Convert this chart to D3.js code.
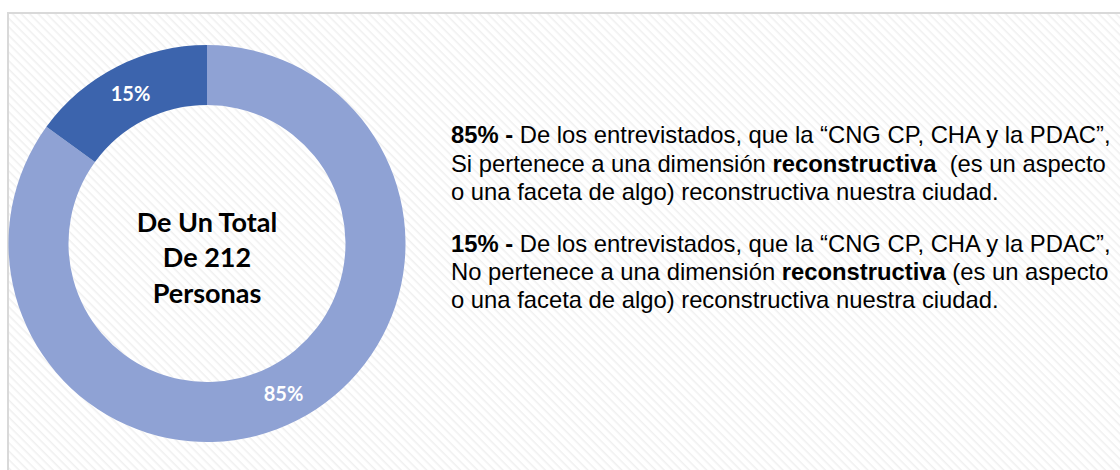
<!DOCTYPE html>
<html>
<head>
<meta charset="utf-8">
<script src="https://cdn.jsdelivr.net/npm/d3@7"></script>
<style>
  body { margin: 0; background: #fff; }
  svg { display: block; }
  text { white-space: pre; }
</style>
</head>
<body>
<svg id="chart"></svg>
<script>
// data
const categories = ["Si pertenece", "No pertenece"];
const values = [85, 15];
const sliceColors = ["#8fa2d4", "#3c64ad"];
const centerLines = ["De Un Total", "De 212", "Personas"];
// each paragraph: lines made of [text, bold] pieces
const paragraphs = [
  [
    [["85% - ", true], ["De los entrevistados, que la \u201cCNG CP, CHA y la PDAC\u201d,", false]],
    [["Si pertenece a una dimensi\u00f3n ", false], ["reconstructiva", true], ["  (es un aspecto", false]],
    [["o una faceta de algo) reconstructiva nuestra ciudad.", false]]
  ],
  [
    [["15% - ", true], ["De los entrevistados, que la \u201cCNG CP, CHA y la PDAC\u201d,", false]],
    [["No pertenece a una dimensi\u00f3n ", false], ["reconstructiva", true], [" (es un aspecto", false]],
    [["o una faceta de algo) reconstructiva nuestra ciudad.", false]]
  ]
];

const width = 1120, height = 470;
const svg = d3.select("#chart").attr("width", width).attr("height", height);

// hatched panel background
const defs = svg.append("defs");
const pat = defs.append("pattern")
  .attr("id", "hatch")
  .attr("patternUnits", "userSpaceOnUse")
  .attr("width", 6).attr("height", 6)
  .attr("patternTransform", "rotate(45)");
pat.append("rect").attr("width", 6).attr("height", 6).attr("fill", "#ffffff");
pat.append("line")
  .attr("x1", 0).attr("y1", 0).attr("x2", 6).attr("y2", 0)
  .attr("stroke", "#f0f0f0").attr("stroke-width", 3);

svg.append("rect")
  .attr("x", 8).attr("y", 13)
  .attr("width", width + 20).attr("height", height + 20)
  .attr("fill", "url(#hatch)")
  .attr("stroke", "#d9d9d9").attr("stroke-width", 2);

// donut
const cx = 207, cy = 243.5, outerR = 198.5, innerR = 138.5;
const pie = d3.pie().sort(null).value(d => d);
const arc = d3.arc().innerRadius(innerR).outerRadius(outerR);
const arcs = pie(values);

const donutG = svg.append("g").attr("transform", `translate(${cx},${cy})`);
donutG.selectAll("path.slice")
  .data(arcs)
  .join("path")
    .attr("class", "slice")
    .attr("d", arc)
    .attr("fill", (d, i) => sliceColors[i]);

donutG.selectAll("text.pct")
  .data(arcs)
  .join("text")
    .attr("class", "pct")
    .attr("transform", d => `translate(${arc.centroid(d)})`)
    .attr("text-anchor", "middle")
    .attr("dy", "0.36em")
    .attr("font-family", "Lato, 'Open Sans', sans-serif")
    .attr("font-weight", "bold")
    .attr("font-size", 20)
    .attr("fill", "#ffffff")
    .text(d => d.data + "%");

donutG.selectAll("text.center")
  .data(centerLines)
  .join("text")
    .attr("class", "center")
    .attr("text-anchor", "middle")
    .attr("x", 0)
    .attr("y", (d, i) => -12 + i * 35.6)
    .attr("font-family", "Lato, 'Open Sans', sans-serif")
    .attr("font-weight", "bold")
    .attr("font-size", 27)
    .attr("fill", "#000000")
    .text(d => d);

// description text
const textX = 451;
const paraTops = [143.3, 251.5];
const lineGap = 28.3;
const descG = svg.append("g")
  .attr("font-family", "'Liberation Sans', Arial, sans-serif")
  .attr("font-size", 23.8)
  .attr("fill", "#000000");

paragraphs.forEach((para, p) => {
  para.forEach((line, l) => {
    const t = descG.append("text")
      .attr("x", textX)
      .attr("y", paraTops[p] + l * lineGap);
    t.selectAll("tspan")
      .data(line)
      .join("tspan")
        .attr("font-weight", d => d[1] ? "bold" : "normal")
        .text(d => d[0]);
  });
});
</script>
</body>
</html>
